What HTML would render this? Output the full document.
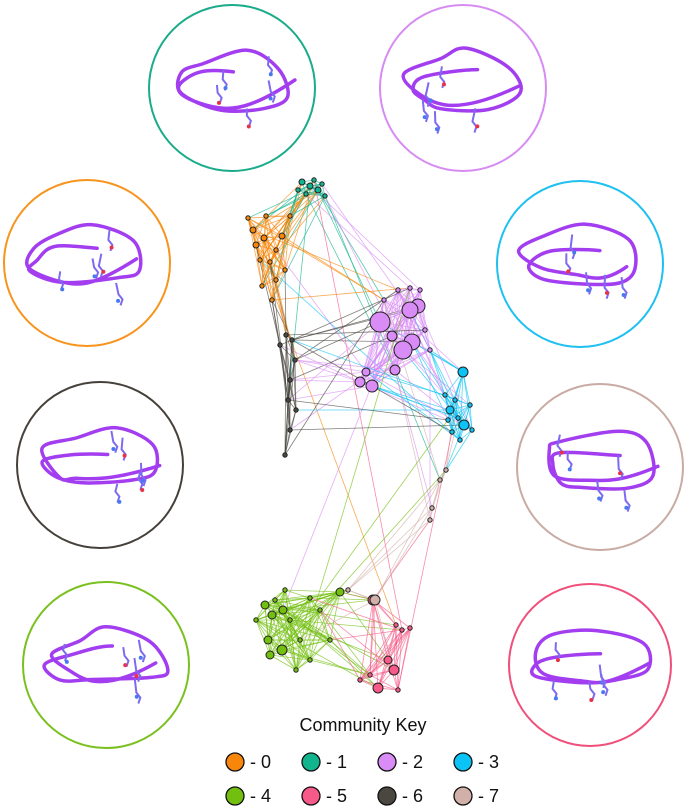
<!DOCTYPE html>
<html><head><meta charset="utf-8">
<style>
html,body{margin:0;padding:0;background:#fff;}
svg{display:block;font-family:"Liberation Sans",Arial,sans-serif;}
</style></head>
<body>
<svg id="s" width="688" height="806" viewBox="0 0 688 806" xmlns="http://www.w3.org/2000/svg">
<g id="circles" fill="none" stroke-width="2">
<circle cx="232" cy="88" r="83" stroke="#1aab8a"/>
<circle cx="463" cy="88" r="83" stroke="#d68cf2"/>
<circle cx="87" cy="263" r="83" stroke="#f7941d"/>
<circle cx="580" cy="264" r="83" stroke="#1ec0f0"/>
<circle cx="100" cy="465" r="83" stroke="#45403a"/>
<circle cx="600" cy="467" r="83" stroke="#c9aba4"/>
<circle cx="106" cy="665" r="83" stroke="#7ac01f"/>
<circle cx="590" cy="665" r="81" stroke="#ef4f7a"/>
</g>
<g id="prot"></g>
<g id="edges"></g>
<g id="nodes" stroke="#222" stroke-width="1"></g>
<text x="363" y="731" font-size="18" text-anchor="middle" fill="#111">Community Key</text>
<g stroke="#111" stroke-width="1.3" font-size="18" fill="#111">
<circle cx="235" cy="762" r="9" fill="#f7860a"/><text x="250" y="768" stroke="none">- 0</text>
<circle cx="311" cy="762" r="9" fill="#12b48e"/><text x="326" y="768" stroke="none">- 1</text>
<circle cx="387" cy="762" r="9" fill="#d98cf5"/><text x="402" y="768" stroke="none">- 2</text>
<circle cx="463" cy="762" r="9" fill="#0cc3f5"/><text x="478" y="768" stroke="none">- 3</text>
<circle cx="235" cy="796" r="9" fill="#72bf10"/><text x="250" y="802" stroke="none">- 4</text>
<circle cx="311" cy="796" r="9" fill="#f55a88"/><text x="326" y="802" stroke="none">- 5</text>
<circle cx="387" cy="796" r="9" fill="#4a4740"/><text x="402" y="802" stroke="none">- 6</text>
<circle cx="463" cy="796" r="9" fill="#d2b0aa"/><text x="478" y="802" stroke="none">- 7</text>
</g>
</svg>
<script>
var seed=7;function R(){seed=(seed*16807)%2147483647;return seed/2147483647;}
var NS="http://www.w3.org/2000/svg";
function el(t,a,p){var e=document.createElementNS(NS,t);for(var k in a)e.setAttribute(k,a[k]);document.getElementById(p).appendChild(e);return e;}
var cs=[[232,88],[463,88],[87,263],[580,264],[100,465],[600,467],[106,665],[590,665]];
cs.forEach(function(c){
  var pts=[];
  for(var k=0;k<16;k++){var t=k/16*Math.PI*4+R()*0.4;
    var rx=50+R()*14,ry=18+R()*14;
    pts.push([c[0]+Math.cos(t)*rx,c[1]-4+Math.sin(t)*ry*(k<8?1:0.7)+(k<8?-4:6)]);}
  var d="M"+pts[0][0].toFixed(1)+" "+pts[0][1].toFixed(1);
  for(var i=1;i<pts.length-2;i++){
    var p0=pts[i-1],p1=pts[i],p2=pts[i+1],p3=pts[i+2];
    d+=" C"+(p1[0]+(p2[0]-p0[0])/6).toFixed(1)+" "+(p1[1]+(p2[1]-p0[1])/6).toFixed(1)+" "+(p2[0]-(p3[0]-p1[0])/6).toFixed(1)+" "+(p2[1]-(p3[1]-p1[1])/6).toFixed(1)+" "+p2[0].toFixed(1)+" "+p2[1].toFixed(1);}
  el("path",{d:d,fill:"none",stroke:"#a23ef0","stroke-width":3.5,"stroke-linecap":"round"},"prot");
  for(var j=0;j<5;j++){var sx=c[0]-45+R()*90,sy=c[1]-35+R()*60;
    el("path",{d:"M"+sx+" "+sy+" l"+((R()-0.5)*6)+" "+(6+R()*8)+" l4 5 l-2 6",fill:"none",stroke:"#7d6af0","stroke-width":2},"prot");
    el("circle",{cx:sx+2,cy:sy+18,r:2,fill:j%2?"#e8324a":"#4a78f0"},"prot");}
});
var col={0:"#f7860a",1:"#12b48e",2:"#d98cf5",3:"#0cc3f5",4:"#72bf10",5:"#f55a88",6:"#4a4740",7:"#d2b0aa"};
var N=[];
function add(c,pts){pts.forEach(function(p){N.push({x:p[0],y:p[1],r:p[2]||2.2,c:c});});}
add(1,[[302,182,3],[310,186,3],[318,190,3],[306,194],[314,180],[322,184],[298,190],[325,196]]);
add(0,[[248,218],[253,230,3],[256,245,3],[264,238,3],[260,260],[270,262],[276,250],[282,236,3],[290,216],[266,216],[262,286],[272,300],[276,280],[285,270]]);
add(2,[[380,322,10],[410,310,8],[418,306,7],[403,350,9],[412,342,8],[392,336,5],[360,382,5],[372,386,6],[366,372,4],[398,290],[410,288],[384,300],[420,290],[395,370,5],[425,330],[430,350]]);
add(3,[[463,372,5],[455,400],[450,410,4],[458,418],[464,425,5],[470,405],[445,395],[460,440],[452,432],[472,430],[448,420]]);
add(6,[[286,335],[292,340],[295,360],[290,380],[288,400],[296,410],[290,430],[285,455],[280,345]]);
add(4,[[275,600],[265,605,4],[272,615,4],[283,610,4],[290,620],[268,640,4],[282,650,5],[270,655,4],[300,640],[310,660],[296,670],[340,592,4],[320,610],[256,620],[330,640],[310,598],[285,590]]);
add(5,[[373,600,5],[396,625],[402,630],[410,628],[388,660,4],[394,670,5],[378,688,5],[370,675],[360,680],[398,690]]);
add(7,[[375,600,5],[430,520],[432,508],[440,480],[446,470],[348,590]]);
for(var i=0;i<N.length;i++)for(var j=i+1;j<N.length;j++){
  var a=N[i],b=N[j];var dx=a.x-b.x,dy=a.y-b.y,d=Math.sqrt(dx*dx+dy*dy);
  var p=a.c==b.c?0.85:Math.exp(-d/45)*1.1;
  if(a.c!=b.c&&d>200)p=0.003; if(R()<p)
  el("line",{x1:a.x,y1:a.y,x2:b.x,y2:b.y,stroke:col[R()<0.5?a.c:b.c],"stroke-width":0.8,"stroke-opacity":0.7},"edges");
}
N.slice().sort(function(a,b){return a.r-b.r;}).forEach(function(n){el("circle",{cx:n.x,cy:n.y,r:n.r,fill:col[n.c]},"nodes");});
</script>
</body></html>
